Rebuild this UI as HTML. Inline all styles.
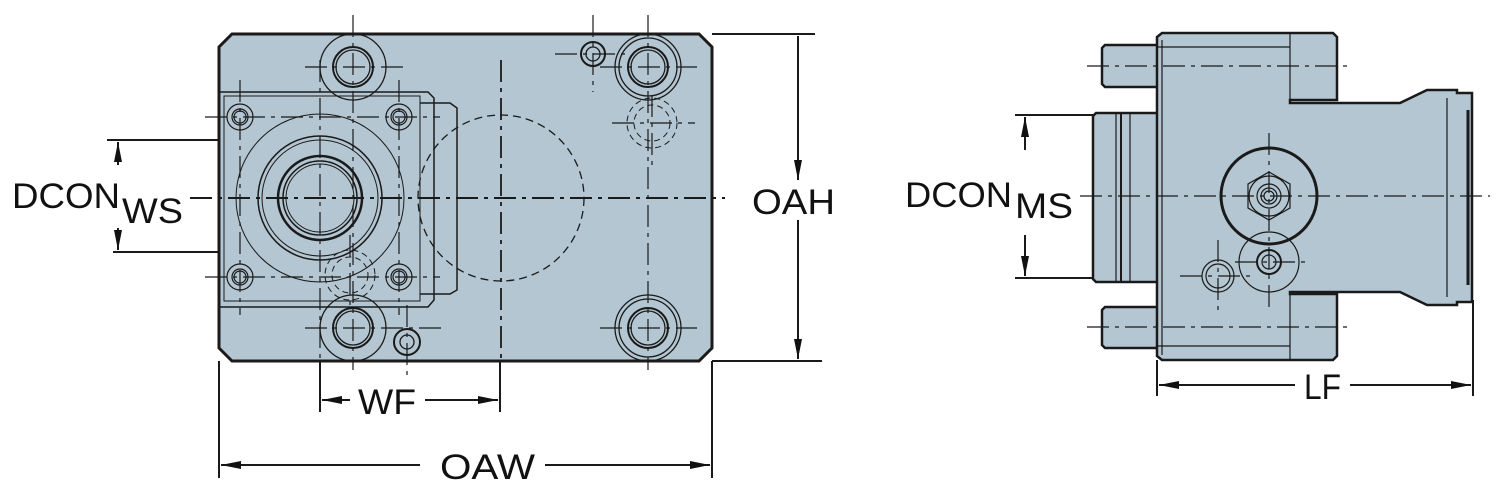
<!DOCTYPE html>
<html><head><meta charset="utf-8"><style>
html,body{margin:0;padding:0;background:#fff;width:1500px;height:500px;overflow:hidden}
svg{display:block}
text{font-family:"Liberation Sans",Arial,sans-serif;fill:#111}
</style></head><body>
<svg width="1500" height="500" viewBox="0 0 1500 500" xmlns="http://www.w3.org/2000/svg">
<defs>
<marker id="ar" viewBox="0 0 20 8" refX="20" refY="4" markerWidth="20" markerHeight="8" markerUnits="userSpaceOnUse" orient="auto"><path d="M0,0 L20,4 L0,8 z" fill="#111"/></marker>
</defs>
<g stroke="#1a1a1a" fill="none">
<!-- LEFT PLATE -->
<path d="M232,34 L699,34 L712,47 L712,348 L699,361 L232,361 L219,348 L219,47 Z" fill="#b3c6d2" stroke-width="3"/>
<path d="M220,92 L428,92 L434,98 L434,300 L428,307 L220,307" stroke-width="1.5"/>
<rect x="224" y="96" width="196" height="205" stroke-width="1"/>
<path d="M420,103 L450,103 L457,108 L457,290 L450,294 L420,294" stroke-width="1.5"/>
<circle cx="320" cy="198" r="84" stroke-width="1"/>
<circle cx="320" cy="198" r="62" stroke-width="1.5"/>
<circle cx="320" cy="198" r="58" stroke-width="1"/>
<circle cx="320" cy="198" r="42" stroke-width="2.5"/>
<circle cx="320" cy="198" r="37" stroke-width="1.5"/>
<circle cx="320" cy="198" r="34" stroke-width="1"/>
<circle cx="501" cy="198" r="83" stroke-width="1.3" stroke-dasharray="8,5"/>
<circle cx="350" cy="275" r="25" stroke-width="1" stroke-dasharray="6,4"/>
<circle cx="350" cy="275" r="18" stroke-width="1" stroke-dasharray="6,4"/>
<circle cx="652" cy="123" r="25" stroke-width="1" stroke-dasharray="6,4"/>
<circle cx="652" cy="123" r="18" stroke-width="1" stroke-dasharray="6,4"/>
<g stroke-width="1.2">
<circle cx="240" cy="117" r="13"/><circle cx="240" cy="117" r="8"/><circle cx="240" cy="117" r="6"/>
<circle cx="399" cy="117" r="13"/><circle cx="399" cy="117" r="8"/><circle cx="399" cy="117" r="6"/>
<circle cx="240" cy="277" r="13"/><circle cx="240" cy="277" r="8"/><circle cx="240" cy="277" r="6"/>
<circle cx="399" cy="277" r="13"/><circle cx="399" cy="277" r="8"/><circle cx="399" cy="277" r="6"/>
</g>
<g stroke-width="1.3">
<circle cx="353" cy="67" r="33"/><circle cx="353" cy="67" r="20" stroke-width="2"/><circle cx="353" cy="67" r="17"/>
<circle cx="648" cy="67" r="33"/><circle cx="648" cy="67" r="29"/><circle cx="648" cy="67" r="20" stroke-width="2"/><circle cx="648" cy="67" r="17"/>
<circle cx="353" cy="328" r="33"/><circle cx="353" cy="328" r="20" stroke-width="2"/><circle cx="353" cy="328" r="17"/>
<circle cx="648" cy="328" r="33"/><circle cx="648" cy="328" r="29"/><circle cx="648" cy="328" r="20" stroke-width="2"/><circle cx="648" cy="328" r="17"/>
<circle cx="593" cy="54" r="12" stroke-width="2"/><circle cx="593" cy="54" r="7"/>
<circle cx="407" cy="342" r="13" stroke-width="2"/><circle cx="407" cy="342" r="7"/>
</g>
<g stroke-width="1.2" stroke-dasharray="22,6,4,6">
<line x1="190" y1="198" x2="725" y2="198" stroke-width="2"/>
<line x1="501" y1="60" x2="501" y2="360" stroke-width="1.8"/>
<line x1="320" y1="60" x2="320" y2="412"/>
<line x1="353" y1="15" x2="353" y2="370"/>
<line x1="648" y1="15" x2="648" y2="370"/>
<line x1="593" y1="15" x2="593" y2="92"/>
<line x1="240" y1="80" x2="240" y2="315"/>
<line x1="399" y1="80" x2="399" y2="315"/>
<line x1="205" y1="117" x2="440" y2="117"/>
<line x1="205" y1="277" x2="440" y2="277"/>
<line x1="305" y1="67" x2="405" y2="67"/>
<line x1="600" y1="67" x2="697" y2="67"/>
<line x1="305" y1="328" x2="445" y2="328"/>
<line x1="600" y1="328" x2="697" y2="328"/>
<line x1="612" y1="123" x2="695" y2="123"/>
<line x1="652" y1="95" x2="652" y2="165"/>
<line x1="350" y1="235" x2="350" y2="310"/>
<line x1="407" y1="305" x2="407" y2="380"/>
<line x1="555" y1="54" x2="630" y2="54"/>
</g>
<g stroke-width="2">
<line x1="712" y1="34" x2="815" y2="34"/>
<line x1="712" y1="361" x2="822" y2="361"/>
<line x1="798" y1="36" x2="798" y2="180" marker-end="url(#ar)"/>
<line x1="798" y1="220" x2="798" y2="359" marker-end="url(#ar)"/>
<line x1="219" y1="361" x2="219" y2="478"/>
<line x1="712" y1="361" x2="712" y2="478"/>
<line x1="420" y1="465" x2="221" y2="465" marker-end="url(#ar)"/>
<line x1="545" y1="465" x2="710" y2="465" marker-end="url(#ar)"/>
<line x1="320" y1="361" x2="320" y2="412"/>
<line x1="500" y1="361" x2="500" y2="412"/>
<line x1="350" y1="400" x2="322" y2="400" marker-end="url(#ar)"/>
<line x1="425" y1="400" x2="498" y2="400" marker-end="url(#ar)"/>
<line x1="107" y1="140" x2="219" y2="140"/>
<line x1="113" y1="252" x2="219" y2="252"/>
<line x1="118" y1="165" x2="118" y2="142" marker-end="url(#ar)"/>
<line x1="118" y1="228" x2="118" y2="250" marker-end="url(#ar)"/>
</g>

<!-- RIGHT VIEW -->
<g stroke-width="2.5" fill="#b3c6d2">
<path d="M1105,45 L1158,45 L1158,87 L1105,87 L1102,84 L1102,48 Z"/>
<path d="M1105,307 L1158,307 L1158,348 L1105,348 L1102,345 L1102,310 Z"/>
<path d="M1096,113 L1158,113 L1158,282 L1096,282 L1093,279 L1093,116 Z"/>
<path d="M1162,33 L1333,33 L1337,37 L1337,100 L1290,100 L1290,103 L1400,103 L1427,90 L1457,90 L1457,93 L1472,93 L1472,302 L1457,302 L1457,305 L1427,305 L1400,292 L1290,292 L1290,294 L1337,294 L1337,356 L1333,360 L1162,360 L1157,356 L1157,37 Z"/>
</g>
<g stroke-width="1.2">
<line x1="1290" y1="33" x2="1290" y2="100"/><line x1="1290" y1="294" x2="1290" y2="360"/>
<line x1="1162" y1="40" x2="1162" y2="355"/>
<line x1="1157" y1="47" x2="1290" y2="47"/><line x1="1157" y1="346" x2="1290" y2="346"/>
<line x1="1116" y1="113" x2="1116" y2="282"/><line x1="1121" y1="113" x2="1121" y2="282" stroke-width="2"/>
<line x1="1130" y1="113" x2="1130" y2="282"/>
<line x1="1447" y1="98" x2="1447" y2="297"/>
<line x1="1468" y1="110" x2="1468" y2="285" stroke-width="3"/>
<circle cx="1269" cy="196" r="48" stroke-width="3"/>
<polygon points="1269,172 1290,184 1290,208 1269,220 1248,208 1248,184"/>
<circle cx="1269" cy="196" r="20"/><circle cx="1269" cy="196" r="12"/><circle cx="1269" cy="196" r="8"/><circle cx="1269" cy="196" r="5"/>
<circle cx="1269" cy="262" r="30"/><circle cx="1269" cy="262" r="12" stroke-width="2"/><circle cx="1269" cy="262" r="7"/>
<circle cx="1218" cy="276" r="16"/><circle cx="1218" cy="276" r="12"/>
</g>
<g stroke-width="1.2" stroke-dasharray="22,6,4,6">
<line x1="1080" y1="196" x2="1490" y2="196"/>
<line x1="1087" y1="66" x2="1350" y2="66"/>
<line x1="1087" y1="327" x2="1350" y2="327"/>
<line x1="1269" y1="133" x2="1269" y2="310"/>
<line x1="1218" y1="240" x2="1218" y2="313"/>
<line x1="1180" y1="276" x2="1255" y2="276"/>
<line x1="1235" y1="262" x2="1310" y2="262"/>
</g>
<g stroke-width="2">
<line x1="1015" y1="115" x2="1093" y2="115"/>
<line x1="1015" y1="278" x2="1093" y2="278"/>
<line x1="1025" y1="150" x2="1025" y2="117" marker-end="url(#ar)"/>
<line x1="1025" y1="235" x2="1025" y2="276" marker-end="url(#ar)"/>
<line x1="1157" y1="360" x2="1157" y2="396"/>
<line x1="1473" y1="300" x2="1473" y2="396"/>
<line x1="1295" y1="385" x2="1159" y2="385" marker-end="url(#ar)"/>
<line x1="1350" y1="385" x2="1471" y2="385" marker-end="url(#ar)"/>
</g>
</g>
<g font-size="35">
<text x="12" y="208" textLength="108" lengthAdjust="spacingAndGlyphs">DCON</text>
<text x="122" y="223" textLength="61" lengthAdjust="spacingAndGlyphs">WS</text>
<text x="752" y="214" textLength="83" lengthAdjust="spacingAndGlyphs">OAH</text>
<text x="440" y="479" textLength="95" lengthAdjust="spacingAndGlyphs">OAW</text>
<text x="358" y="414" textLength="58" lengthAdjust="spacingAndGlyphs">WF</text>
<text x="905" y="207" textLength="107" lengthAdjust="spacingAndGlyphs">DCON</text>
<text x="1015" y="218" textLength="58" lengthAdjust="spacingAndGlyphs">MS</text>
<text x="1304" y="399" textLength="37" lengthAdjust="spacingAndGlyphs">LF</text>
</g>
</svg>
</body></html>
